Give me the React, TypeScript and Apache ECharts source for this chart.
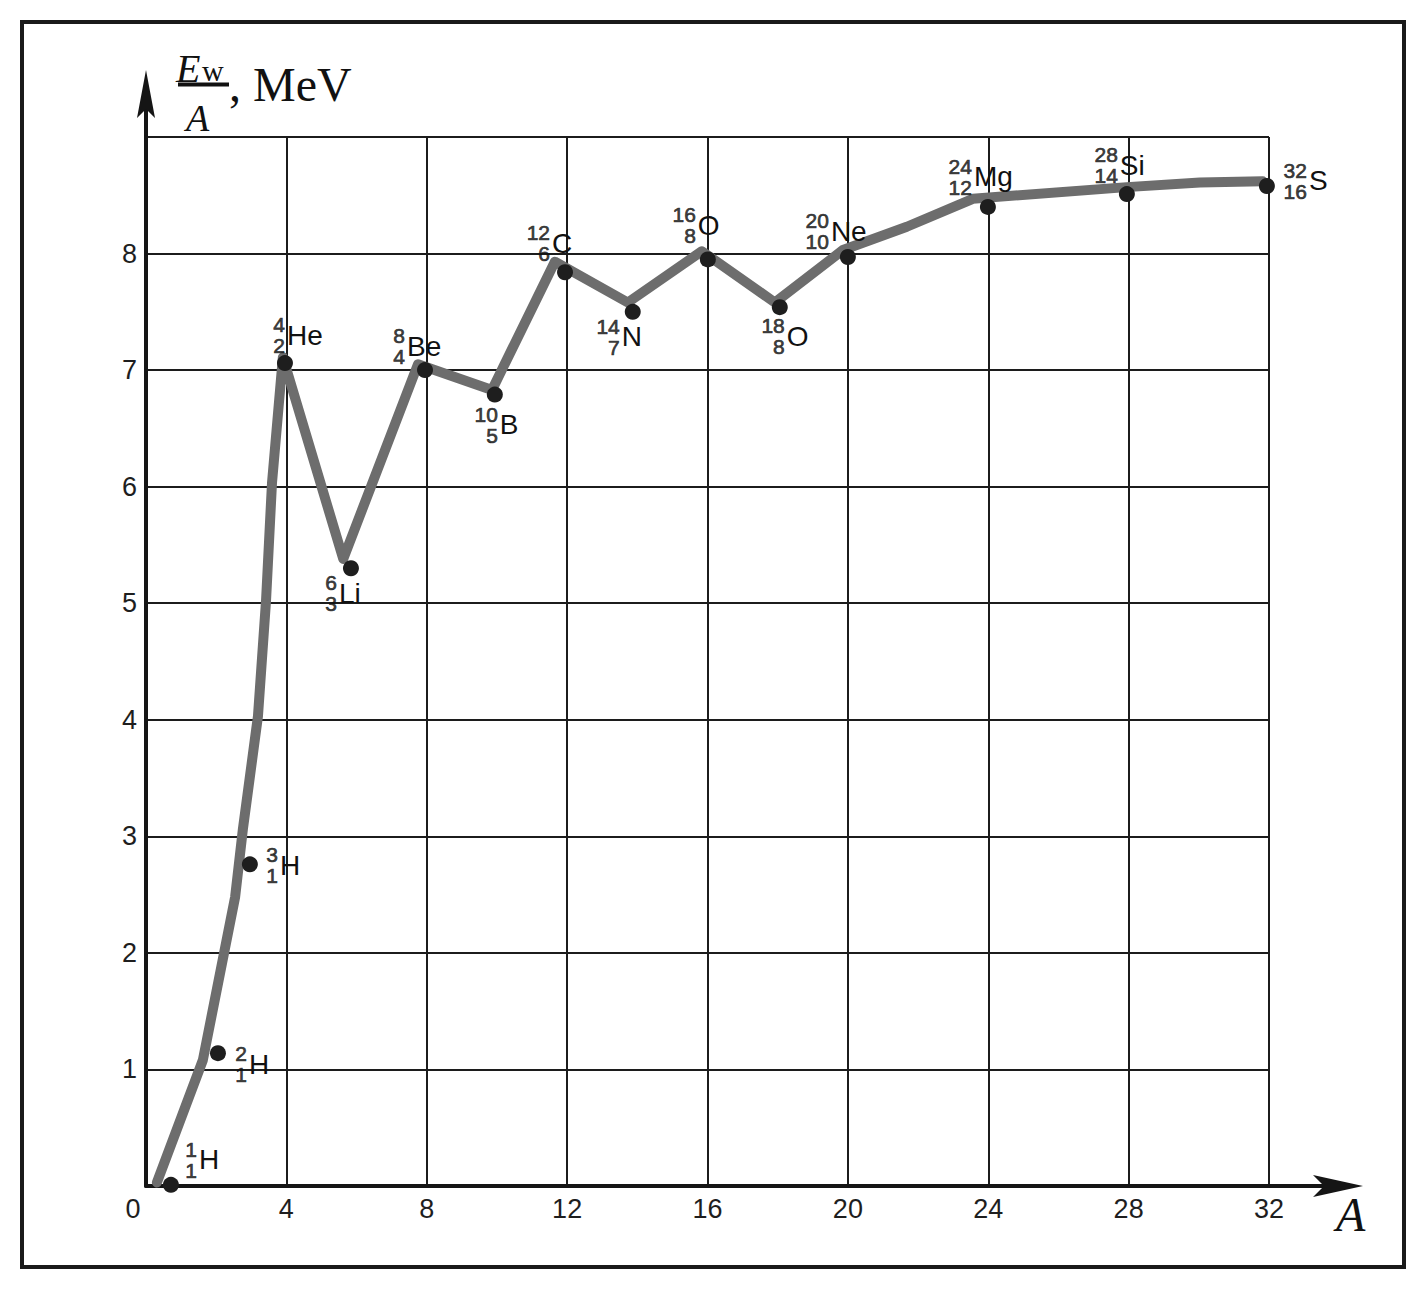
import React, { useEffect, useRef } from 'react';
import * as echarts from 'echarts';

// Gray curve drawn through the nuclides (A, E/A)
const LINE_A = [0.31, 1.62, 2.54, 2.76, 3.19, 3.42, 3.59, 3.9, 5.62, 7.75, 9.86, 11.65, 13.73, 15.84, 17.92, 19.86, 21.68, 23.56, 27.95, 30.03, 31.82];
const LINE_E = [0.03, 1.08, 2.48, 3.06, 4.03, 5.02, 6.03, 7.11, 5.38, 7.05, 6.83, 7.93, 7.58, 8.02, 7.58, 8.03, 8.23, 8.47, 8.57, 8.61, 8.62];

// Nuclide points
const DOT_A = [0.71, 2.05, 2.96, 3.96, 5.84, 7.95, 9.94, 11.94, 13.87, 16.01, 18.06, 20.0, 23.99, 27.95, 31.94];
const DOT_E = [0.01, 1.14, 2.76, 7.06, 5.3, 7.0, 6.79, 7.84, 7.5, 7.95, 7.54, 7.97, 8.4, 8.51, 8.58];
const NUC_MASS = ['1', '2', '3', '4', '6', '8', '10', '12', '14', '16', '18', '20', '24', '28', '32'];
const NUC_Z = ['1', '1', '1', '2', '3', '4', '5', '6', '7', '8', '8', '10', '12', '14', '16'];
const NUC_SYMBOL = ['H', 'H', 'H', 'He', 'Li', 'Be', 'B', 'C', 'N', 'O', 'O', 'Ne', 'Mg', 'Si', 'S'];

// label anchor offsets (px) from each dot: layout only
const LABEL_OFFSETS: [number, number][] = [
  [27, -25], [30, 11], [29, 1], [1, -28], [-13, 25], [-19, -24], [4, 30], [-14, -29],
  [-12, 25], [-11, -34], [6, 29], [-18, -26], [-15, -30], [-8, -29], [41, -5],
];

const X_MIN = 0, X_MAX = 32, X_STEP = 4;
const Y_MIN = 0, Y_MAX = 9, Y_STEP = 1;

const SANS = 'Liberation Sans, Arial, sans-serif';
const SERIF = 'Liberation Serif, Times New Roman, serif';
const INK = '#1c1c1c';

export default function App() {
  const ref = useRef<HTMLDivElement>(null);

  useEffect(() => {
    if (!ref.current) return;
    const chart = echarts.init(ref.current, undefined, { renderer: 'svg' });

    const option: any = {
      animation: false,
      backgroundColor: '#ffffff',
      grid: { left: 146, right: 159, top: 137, bottom: 105 },
      xAxis: {
        type: 'value',
        min: X_MIN,
        max: X_MAX,
        interval: X_STEP,
        axisLine: { show: true, lineStyle: { color: '#151515', width: 4 } },
        axisTick: { show: false },
        splitLine: { show: true, lineStyle: { color: INK, width: 2 } },
        axisLabel: {
          fontFamily: SANS,
          fontSize: 27,
          color: '#1e1e1e',
          margin: 9,
          formatter: (v: number) => (v === 0 ? '{z|0}' : String(v)),
          rich: { z: { fontFamily: SANS, fontSize: 27, color: '#1e1e1e', padding: [0, 26, 0, 0] } },
        },
      },
      yAxis: {
        type: 'value',
        min: Y_MIN,
        max: Y_MAX,
        interval: Y_STEP,
        axisLine: { show: true, onZero: false, lineStyle: { color: '#151515', width: 4 } },
        axisTick: { show: false },
        splitLine: { show: true, lineStyle: { color: INK, width: 2 } },
        axisLabel: {
          fontFamily: SANS,
          fontSize: 27,
          color: '#1e1e1e',
          margin: 9,
          formatter: (v: number) => (v === Y_MIN || v === Y_MAX ? '' : String(v)),
        },
      },
      series: [
        {
          type: 'line',
          data: LINE_A.map((a, i) => [a, LINE_E[i]]),
          symbol: 'none',
          silent: true,
          lineStyle: { color: '#6d6d6d', width: 10, join: 'round', cap: 'round' },
          z: 2,
        },
        {
          // mass / atomic numbers (stacked), right-aligned at the anchor
          type: 'scatter',
          symbolSize: 0.5,
          silent: true,
          itemStyle: { color: '#111' },
          data: DOT_A.map((a, i) => ({
            value: [a, DOT_E[i]],
            label: { offset: [LABEL_OFFSETS[i][0] - 1, LABEL_OFFSETS[i][1]] },
          })),
          label: {
            show: true,
            position: 'inside',
            align: 'right',
            verticalAlign: 'middle',
            fontFamily: SANS,
            fontSize: 21,
            lineHeight: 21,
            color: '#111',
            textBorderColor: '#111',
            textBorderWidth: 0.7,
            formatter: (p: any) => `${NUC_MASS[p.dataIndex]}\n${NUC_Z[p.dataIndex]}`,
          },
          z: 3,
        },
        {
          type: 'scatter',
          symbolSize: 16,
          itemStyle: { color: '#1e1e1e', opacity: 1 },
          data: DOT_A.map((a, i) => ({
            value: [a, DOT_E[i]],
            label: { offset: [LABEL_OFFSETS[i][0] + 1, LABEL_OFFSETS[i][1]] },
          })),
          label: {
            show: true,
            position: 'inside',
            align: 'left',
            verticalAlign: 'middle',
            fontFamily: SANS,
            fontSize: 28,
            color: '#111',
            textBorderWidth: 0,
            formatter: (p: any) => NUC_SYMBOL[p.dataIndex],
          },
          z: 4,
        },
      ],
    };

    chart.setOption(option);

    const xEnd = chart.convertToPixel({ gridIndex: 0 }, [X_MAX, Y_MIN]) as number[];
    const yTop = chart.convertToPixel({ gridIndex: 0 }, [X_MIN, Y_MAX]) as number[];

    const ax = xEnd[0], ay = xEnd[1];
    const bx = yTop[0], by = yTop[1];

    chart.setOption({
      graphic: [
        {
          type: 'rect',
          shape: { x: 22, y: 22, width: 1382, height: 1245 },
          style: { fill: 'none', stroke: '#1a1a1a', lineWidth: 4 },
          silent: true,
        },
        // x-axis extension + arrow
        {
          type: 'line',
          shape: { x1: ax - 2, y1: ay, x2: ax + 56, y2: ay },
          style: { stroke: '#151515', lineWidth: 4 },
          silent: true,
        },
        {
          type: 'polygon',
          shape: { points: [[ax + 94, ay], [ax + 44, ay - 11], [ax + 55, ay], [ax + 44, ay + 11]] },
          style: { fill: '#151515' },
          silent: true,
        },
        // y-axis extension + arrow
        {
          type: 'line',
          shape: { x1: bx, y1: by + 2, x2: bx, y2: by - 30 },
          style: { stroke: '#151515', lineWidth: 4 },
          silent: true,
        },
        {
          type: 'polygon',
          shape: { points: [[bx, by - 67], [bx - 9, by - 19], [bx, by - 28], [bx + 9, by - 19]] },
          style: { fill: '#151515' },
          silent: true,
        },
        // y-axis title: E_w / A, MeV
        {
          type: 'text',
          style: { text: 'E', x: 176, y: 68, font: `italic 40px ${SERIF}`, fill: '#111', align: 'left', verticalAlign: 'middle' },
          silent: true,
        },
        {
          type: 'text',
          style: { text: 'w', x: 202, y: 70, font: `30px ${SERIF}`, fill: '#111', align: 'left', verticalAlign: 'middle' },
          silent: true,
        },
        {
          type: 'line',
          shape: { x1: 178, y1: 84.5, x2: 229, y2: 84.5 },
          style: { stroke: '#111', lineWidth: 4 },
          silent: true,
        },
        {
          type: 'text',
          style: { text: 'A', x: 186, y: 118, font: `italic 38px ${SERIF}`, fill: '#111', align: 'left', verticalAlign: 'middle' },
          silent: true,
        },
        {
          type: 'text',
          style: { text: ', MeV', x: 229, y: 84, font: `48px ${SERIF}`, fill: '#111', align: 'left', verticalAlign: 'middle' },
          silent: true,
        },
        // x-axis title
        {
          type: 'text',
          style: { text: 'A', x: 1336, y: 1214, font: `italic 48px ${SERIF}`, fill: '#111', align: 'left', verticalAlign: 'middle' },
          silent: true,
        },
      ],
    });

    return () => {
      chart.dispose();
    };
  }, []);

  return (
    <div
      ref={ref}
      style={{ position: 'fixed', left: 0, top: 0, width: 1428, height: 1291, background: '#fff' }}
    />
  );
}
